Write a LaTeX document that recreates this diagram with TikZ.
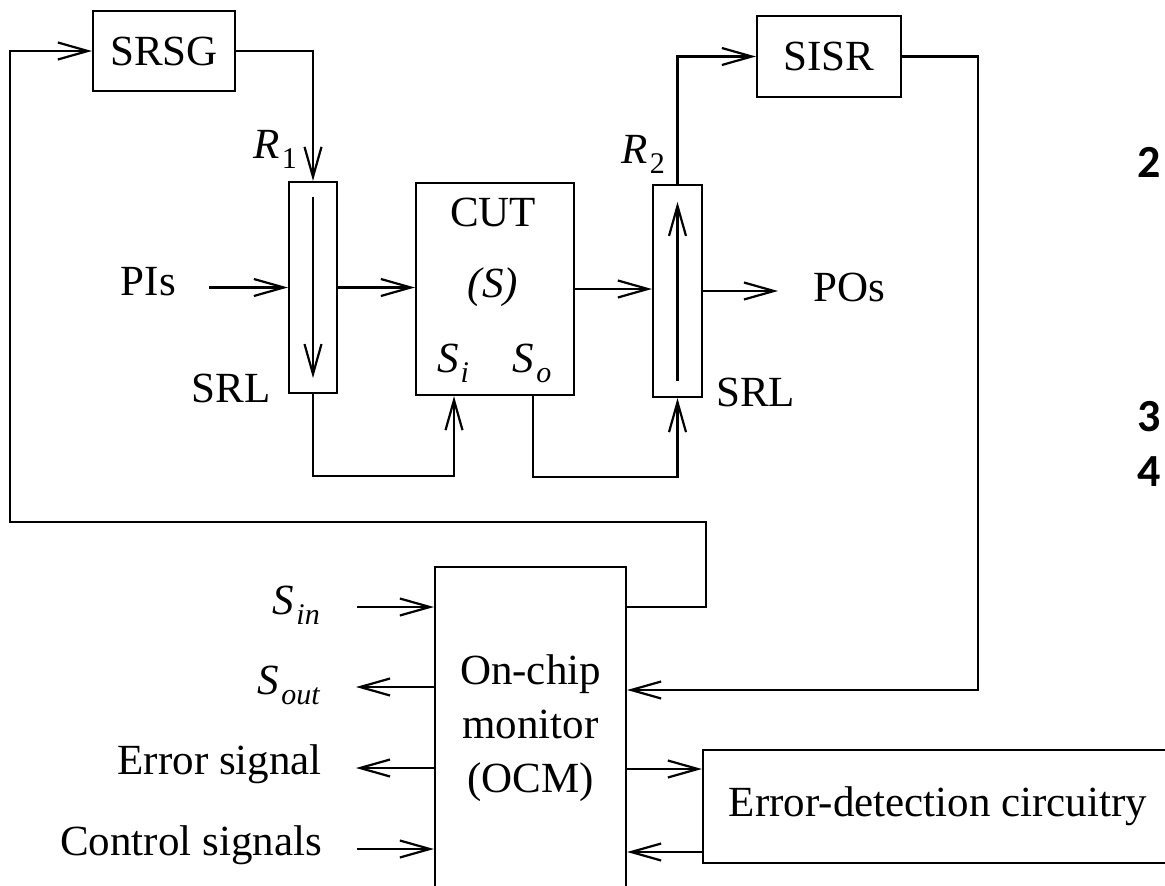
\documentclass[tikz,border=0pt]{standalone}
\usepackage{fontspec}
\setmainfont{Liberation Serif}
\newfontfamily\digitfont{Carlito}
\usetikzlibrary{arrows.meta}
\newcommand{\lowsub}[1]{\kern2pt\raisebox{-10pt}{\fontsize{30}{30}\selectfont\itshape #1}}

\begin{document}
\begin{tikzpicture}[x=1pt, y=-1pt,
    font=\fontsize{43}{54}\selectfont,
    blk/.style={draw, line width=2.2pt, inner sep=0pt},
    sig/.style={line width=2.2pt, -{Straight Barb[length=30pt, width=17pt]}},
    lbl/.style={inner sep=0pt},
    digit/.style={font=\digitfont\bfseries\fontsize{46}{46}\selectfont}]
    \useasboundingbox (0,0) rectangle (1165,886);

    % blocks
    \node[blk, minimum width=142pt, minimum height=80pt] (srsg) at (164,51) {SRSG};
    \node[blk, minimum width=144pt, minimum height=81pt] (sisr) at (829,56.5) {SISR};
    \node[blk, minimum width=48pt, minimum height=211pt] (srl1) at (313,287.5) {};
    \node[blk, minimum width=158pt, minimum height=212pt] (cut) at (495,289) {};
    \node[blk, minimum width=49pt, minimum height=212pt] (srl2) at (677.5,291) {};
    \node[blk, minimum width=191pt, minimum height=323pt, align=center] (ocm) at (530.5,728.5)
      {On-chip\\monitor\\(OCM)};
    \node[blk, minimum width=470pt, minimum height=113pt] (edc) at (938,806.5)
      {Error-detection circuitry};

    % text inside the CUT
    \node[lbl] (cutname) at (493,212) {CUT};
    \node[lbl] (cutstate) at (493,287) {\textit{(S)}};
    \node[lbl, anchor=base] (si) at (453,372) {\textit{S}\lowsub{i}};
    \node[lbl, anchor=base] (so) at (532,372) {\textit{S}\lowsub{o}};

    % labels round the blocks
    \node[lbl, anchor=base east] (r1) at (297,158) {\textit{R}\lowsub{\upshape 1}};
    \node[lbl, anchor=base east] (r2) at (665,163) {\textit{R}\lowsub{\upshape 2}};
    \node[lbl, anchor=base east] (srl1lbl) at (271,402) {SRL};
    \node[lbl, anchor=base west] (srl2lbl) at (716,406) {SRL};
    \node[lbl, anchor=base east] (pis) at (176,295) {PIs};
    \node[lbl, anchor=base west] (pos) at (813,301) {POs};
    \node[lbl, anchor=base east] (sin) at (320,614) {\textit{S}\lowsub{in}};
    \node[lbl, anchor=base east] (sout) at (320,694) {\textit{S}\lowsub{out}};
    \node[lbl, anchor=base east] (errsig) at (322,774) {Error signal};
    \node[lbl, anchor=base east] (ctrl) at (322,855) {Control signals};

    % margin digits
    \node[digit] (m2) at (1149,162) {2};
    \node[digit] (m3) at (1149,417) {3};
    \node[digit] (m4) at (1149,472) {4};

    % free ends and bends
    \coordinate (piin) at (209,287.5);
    \coordinate (poout) at (778,291);
    \coordinate (siport) at (454,476);
    \coordinate (soport) at (533,477);
    \coordinate (loopne) at (706,522);
    \coordinate (loopsw) at (10,522);
    \coordinate (sisrdrop) at (978,690);
    \coordinate (sinin) at (357,607);
    \coordinate (soutend) at (356,687);
    \coordinate (errend) at (356,768);
    \coordinate (ctrlin) at (357,849);

    % data path
    \draw[sig] (piin) -- (srl1.west);
    \draw[sig] (srl1.east) -- (srl1.east -| cut.west);
    \draw[sig] (cut.east) -- (cut.east -| srl2.west);
    \draw[sig] (srl2.east) -- (poout);

    % scan paths through the SRLs
    \draw[sig] ([yshift=-16pt]srl1.north) -- ([yshift=16pt]srl1.south);
    \draw[sig] ([yshift=17pt]srl2.south) -- ([yshift=-18pt]srl2.north);
    \draw[sig] (srsg.east) -| (srl1.north);
    \draw[sig] (srl2.north) |- (sisr.west);
    \draw[sig] (srl1.south) |- (siport) -- (siport |- cut.south);
    \draw[sig] (soport |- cut.south) -- (soport) -| (srl2.south);

    % monitor loops
    \draw[sig] (ocm.east |- 0,607) -| (loopne) -- (loopsw) |- (srsg.west);
    \draw[sig] (sisr.east) -| (sisrdrop) -- (sisrdrop -| ocm.east);

    % monitor ports
    \draw[sig] (sinin) -- (sinin -| ocm.west);
    \draw[sig] (soutend -| ocm.west) -- (soutend);
    \draw[sig] (errend -| ocm.west) -- (errend);
    \draw[sig] (ctrlin) -- (ctrlin -| ocm.west);
    \draw[sig] (ocm.east |- 0,769) -- (edc.west |- 0,769);
    \draw[sig] (edc.west |- 0,852) -- (ocm.east |- 0,852);
\end{tikzpicture}
\end{document}
